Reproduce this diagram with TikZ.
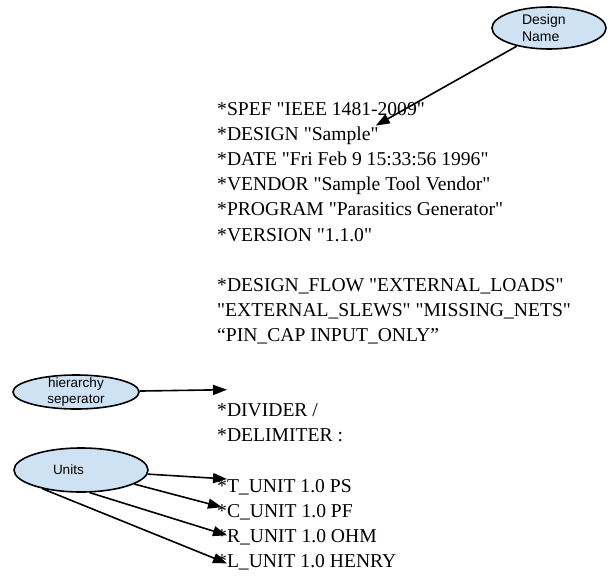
\documentclass[tikz,border=0pt]{standalone}
\usepackage{fontspec}
\setmainfont{Liberation Serif}[Ligatures=TeXOff]
\newfontfamily\bubblefont{Liberation Sans}
\usetikzlibrary{shapes.geometric,arrows.meta,calc}

\definecolor{bubblefill}{HTML}{CFE2F3}
\tikzset{
  bubble/.style={ellipse, draw=black, line width=1.6pt, fill=bubblefill, inner sep=0pt,
    font=\bubblefont\fontsize{13.5}{15.5}\selectfont, align=center},
  codeline/.style={anchor=base west, inner sep=0pt, font=\fontsize{19.6}{25}\selectfont},
  pointer/.style={line width=1.6pt, -{Triangle[length=14pt,width=10pt]}}
}

\begin{document}
\begin{tikzpicture}[x=1pt,y=-1pt]
\useasboundingbox (0,0) rectangle (611,579);

% the notes
\node[bubble, minimum width=114pt, minimum height=42pt, inner ysep=-2pt, text width=54pt, align=left,
  font=\bubblefont\fontsize{14}{17}\selectfont] (dname) at (549,28) {Design\\Name};
\node[bubble, minimum width=126pt, minimum height=34pt, inner ysep=-4pt] (hier) at (76,392) {hierarchy\\seperator};
\node[bubble, minimum width=134pt, minimum height=44pt, text width=56pt, align=left] (units) at (81,470) {Units};

% the header lines
\node[codeline] (spef) at (217,115.5) {*SPEF "IEEE 1481-2009"};
\node[codeline] (design) at (217,140.6) {*DESIGN "Sample"};
\node[codeline] (date) at (217,165.7) {*DATE "Fri Feb 9 15:33:56 1996"};
\node[codeline] (vendor) at (217,190.8) {*VENDOR "Sample Tool Vendor"};
\node[codeline] (program) at (217,215.9) {*PROGRAM "Parasitics Generator"};
\node[codeline] (version) at (217,241.0) {*VERSION "1.1.0"};

\node[codeline] (dflow) at (217,291.2) {*DESIGN\_FLOW "EXTERNAL\_LOADS"};
\node[codeline] (slews) at (217,316.3) {"EXTERNAL\_SLEWS" "MISSING\_NETS"};
\node[codeline] (pincap) at (217,341.4) {“PIN\_CAP INPUT\_ONLY”};

\node[codeline] (divider) at (217,416.7) {*DIVIDER /};
\node[codeline] (delimiter) at (217,441.8) {*DELIMITER :};

\node[codeline] (tunit) at (217,492.0) {*T\_UNIT 1.0 PS};
\node[codeline] (cunit) at (217,517.2) {*C\_UNIT 1.0 PF};
\node[codeline] (runit) at (217,542.3) {*R\_UNIT 1.0 OHM};
\node[codeline] (lunit) at (217,567.4) {*L\_UNIT 1.0 HENRY};

% arrow ends
\coordinate (designtip) at ($(design.base east)+(-3,-15)$);
\coordinate (dividertip) at ($(divider.base west)+(10,-27)$);

\draw[pointer] (dname) -- (designtip);
\draw[pointer] (hier) -- (dividertip);

\draw[pointer] (units) -- ($(tunit.base west)+(10,-13)$);
\draw[pointer] (units) -- ($(cunit.base west)+(5,-10)$);
\draw[pointer] (units.-69) -- ($(runit.base west)+(10,-7)$);
\draw[pointer] (units.-154) -- ($(lunit.base west)+(10,-4)$);

\end{tikzpicture}
\end{document}
